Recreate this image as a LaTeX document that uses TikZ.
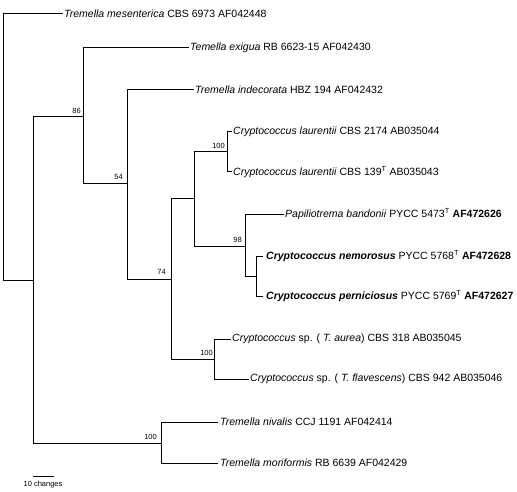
\documentclass[tikz,border=0pt]{standalone}
\usepackage{fontspec}
\setmainfont{Liberation Sans}
\begin{document}
\begin{tikzpicture}[x=1pt,y=-1pt,
  branch/.style={line width=1pt,line cap=rect},
  leaf/.style={anchor=west,inner sep=0pt,font=\fontsize{10.5}{12}\selectfont},
  boot/.style={anchor=south east,inner sep=0pt,font=\fontsize{7.5}{8}\selectfont},
  scale text/.style={anchor=center,inner sep=0pt,font=\fontsize{7.5}{8}\selectfont}]
\useasboundingbox (0,0) rectangle (517,492);
% internal nodes
\coordinate (R) at (3,147);
\coordinate (N1) at (33,280);
\coordinate (N86) at (83,117);
\coordinate (N54) at (127,184);
\coordinate (N74) at (171,279);
\coordinate (Nlp) at (194,199);
\coordinate (Nlau) at (227,152);
\coordinate (N98) at (245,246);
\coordinate (Nnp) at (256,276);
\coordinate (Nsp) at (214,359);
\coordinate (Nniv) at (161,443);
% leaf ends
\coordinate (Lmes) at (62,14);
\coordinate (Lexi) at (188,48);
\coordinate (Lind) at (193,90);
\coordinate (Llau1) at (231,132);
\coordinate (Llau2) at (231,172);
\coordinate (Lpap) at (283,214);
\coordinate (Lnem) at (262,256);
\coordinate (Lper) at (262,296);
\coordinate (Laur) at (230,339);
\coordinate (Lfla) at (248,379);
\coordinate (Lniv) at (217,422);
\coordinate (Lmor) at (217,463);
% branches
\draw[branch] (R) |- (Lmes);
\draw[branch] (R) |- (N1);
\draw[branch] (N1) |- (N86);
\draw[branch] (N1) |- (Nniv);
\draw[branch] (N86) |- (Lexi);
\draw[branch] (N86) |- (N54);
\draw[branch] (N54) |- (Lind);
\draw[branch] (N54) |- (N74);
\draw[branch] (N74) |- (Nlp);
\draw[branch] (N74) |- (Nsp);
\draw[branch] (Nlp) |- (Nlau);
\draw[branch] (Nlp) |- (N98);
\draw[branch] (Nlau) |- (Llau1);
\draw[branch] (Nlau) |- (Llau2);
\draw[branch] (N98) |- (Lpap);
\draw[branch] (N98) |- (Nnp);
\draw[branch] (Nnp) |- (Lnem);
\draw[branch] (Nnp) |- (Lper);
\draw[branch] (Nsp) |- (Laur);
\draw[branch] (Nsp) |- (Lfla);
\draw[branch] (Nniv) |- (Lniv);
\draw[branch] (Nniv) |- (Lmor);
% leaf labels
\node[leaf] (tmes) at ([xshift=2]Lmes) {\textit{Tremella mesenterica} CBS 6973 AF042448};
\node[leaf] (texi) at ([xshift=2]Lexi) {\textit{Temella exigua} RB 6623-15 AF042430};
\node[leaf] (tind) at ([xshift=2]Lind) {\textit{Tremella indecorata} HBZ 194 AF042432};
\node[leaf] (tlau1) at ([xshift=2]Llau1) {\textit{Cryptococcus laurentii} CBS 2174 AB035044};
\node[leaf] (tlau2) at ([xshift=2]Llau2) {\textit{Cryptococcus laurentii} CBS 139\textsuperscript{T} AB035043};
\node[leaf] (tpap) at ([xshift=2]Lpap) {\textit{Papiliotrema bandonii} PYCC 5473\textsuperscript{T} \textbf{AF472626}};
\node[leaf] (tnem) at ([xshift=4]Lnem) {\textbf{\textit{Cryptococcus nemorosus}} PYCC 5768\textsuperscript{T} \textbf{AF472628}};
\node[leaf] (tper) at ([xshift=4]Lper) {\textbf{\textit{Cryptococcus perniciosus}} PYCC 5769\textsuperscript{T} \textbf{AF472627}};
\node[leaf] (taur) at ([xshift=2]Laur) {\textit{Cryptococcus} sp. ( \textit{T. aurea}) CBS 318 AB035045};
\node[leaf] (tfla) at ([xshift=2]Lfla) {\textit{Cryptococcus} sp. ( \textit{T. flavescens}) CBS 942 AB035046};
\node[leaf] (tniv) at ([xshift=3]Lniv) {\textit{Tremella nivalis} CCJ 1191 AF042414};
\node[leaf] (tmor) at ([xshift=3]Lmor) {\textit{Tremella moriformis} RB 6639 AF042429};
% bootstrap values
\node[boot] (b86) at ([xshift=-2,yshift=3]N86) {86};
\node[boot] (b54) at ([xshift=-4,yshift=4]N54) {54};
\node[boot] (b74) at ([xshift=-5,yshift=4]N74) {74};
\node[boot] (b100a) at ([xshift=-2,yshift=3]Nlau) {100};
\node[boot] (b98) at ([xshift=-3,yshift=3]N98) {98};
\node[boot] (b100b) at ([xshift=-1,yshift=3]Nsp) {100};
\node[boot] (b100c) at ([xshift=-4,yshift=3]Nniv) {100};
% scale bar
\coordinate (S1) at (33,476);
\coordinate (S2) at (53,476);
\draw[branch] (S1) -- (S2);
\node[scale text] (stext) at (43,485) {10 changes};
\end{tikzpicture}
\end{document}
